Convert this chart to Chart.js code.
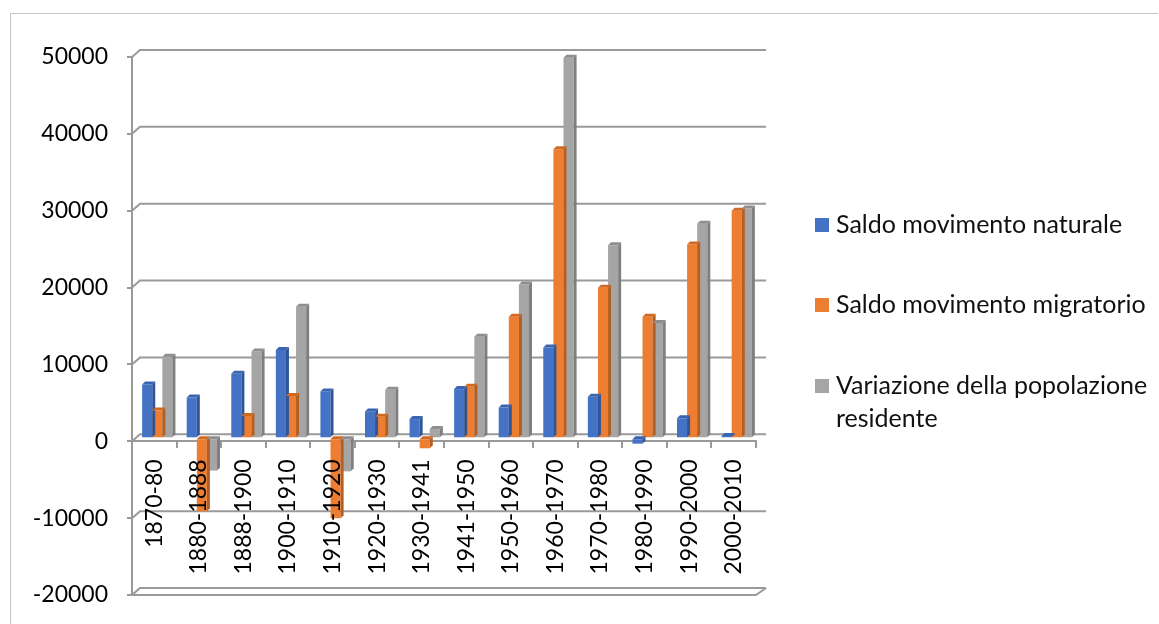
<!DOCTYPE html>
<html>
<head>
<meta charset="utf-8">
<script src="https://cdn.jsdelivr.net/npm/chart.js@4.4.0/dist/chart.umd.min.js"></script>
<style>
  html, body { margin: 0; padding: 0; background: #fff; }
  #wrap { width: 1159px; height: 624px; }
</style>
</head>
<body>
<div id="wrap"><canvas id="popChart" width="1159" height="624"></canvas></div>
<script>
// categories and series
const periods = ["1870-80", "1880-1888", "1888-1900", "1900-1910", "1910-1920", "1920-1930", "1930-1941",
  "1941-1950", "1950-1960", "1960-1970", "1970-1980", "1980-1990", "1990-2000", "2000-2010"];
const naturale = [7000, 5300, 8400, 11500, 6100, 3500, 2500, 6400, 4000, 11800, 5400, -700, 2600, 300];
const migratorio = [3600, -9500, 2900, 5500, -10400, 2800, -1300, 6700, 15800, 37600, 19600, 15800, 25200, 29600];
const variazione = [10600, -4200, 11300, 17100, -4300, 6300, 1200, 13200, 20000, 49500, 25100, 15000, 27900, 29900];
const seriesNames = ["Saldo movimento naturale", "Saldo movimento migratorio", "Variazione della popolazione residente"];
const yMin = -20000;
const yMax = 50000;
const yStep = 10000;

const colors = ["#4472C4", "#ED7D31", "#A5A5A5"];
const sideColors = ["#2F5597", "#B45E22", "#7F7F7F"];
const topColors = ["#3A64B0", "#D06A22", "#8E8E8E"];
const lineGray = "#9a9a9a";
const fontFamily = "Lato, 'Open Sans', sans-serif";

// back wall offset and bar offset (fake 3D)
const wall = { dx: 8, dy: -7 };
const barShift = 3;

const frameAndWalls = {
  id: "frameAndWalls",
  beforeDraw(chart) {
    const ctx = chart.ctx;
    ctx.save();
    ctx.fillStyle = "#fff";
    ctx.fillRect(0, 0, chart.width, chart.height);
    // outer border
    ctx.strokeStyle = "#c4c4c4";
    ctx.lineWidth = 1;
    ctx.beginPath();
    ctx.moveTo(10.5, chart.height);
    ctx.lineTo(10.5, 13.5);
    ctx.lineTo(1158, 13.5);
    ctx.stroke();
    ctx.restore();
  },
  beforeDatasetsDraw(chart) {
    const ctx = chart.ctx;
    const y = chart.scales.y;
    const area = chart.chartArea;
    ctx.save();
    ctx.strokeStyle = lineGray;
    ctx.lineWidth = 2;
    for (let v = yMin; v <= yMax; v += yStep) {
      const py = y.getPixelForValue(v);
      ctx.beginPath();
      ctx.moveTo(area.left, py);
      ctx.lineTo(area.left + wall.dx, py + wall.dy);
      ctx.lineTo(area.right + wall.dx + 2, py + wall.dy);
      ctx.stroke();
    }
    // floor front edge
    const pb = y.getPixelForValue(yMin);
    ctx.beginPath();
    ctx.moveTo(area.left, pb);
    ctx.lineTo(area.right, pb);
    ctx.lineTo(area.right + wall.dx + 2, pb + wall.dy);
    ctx.stroke();
    ctx.restore();

    // bars sit a little behind the front plane
    ctx.save();
    ctx.translate(barShift, -barShift);
  },
  afterDatasetsDraw(chart) {
    const ctx = chart.ctx;
    const d = 3;
    chart.data.datasets.forEach((ds, i) => {
      const meta = chart.getDatasetMeta(i);
      meta.data.forEach((bar) => {
        const p = bar.getProps(["x", "y", "base", "width"], true);
        const left = p.x - p.width / 2;
        const right = p.x + p.width / 2;
        const top = Math.min(p.y, p.base);
        const bottom = Math.max(p.y, p.base);
        // side face
        ctx.fillStyle = sideColors[i];
        ctx.beginPath();
        ctx.moveTo(right, top);
        ctx.lineTo(right + d, top - d);
        ctx.lineTo(right + d, bottom - d);
        ctx.lineTo(right, bottom);
        ctx.closePath();
        ctx.fill();
        // top face
        ctx.fillStyle = topColors[i];
        ctx.beginPath();
        ctx.moveTo(left, top);
        ctx.lineTo(left + d, top - d);
        ctx.lineTo(right + d, top - d);
        ctx.lineTo(right, top);
        ctx.closePath();
        ctx.fill();
      });
    });
    ctx.restore();
  },
};

const sideLegend = {
  id: "sideLegend",
  afterDraw(chart) {
    const ctx = chart.ctx;
    const rows = [225, 305, 386];
    ctx.save();
    ctx.font = "25px " + fontFamily;
    ctx.textBaseline = "middle";
    ctx.textAlign = "left";
    chart.data.datasets.forEach((ds, i) => {
      const cy = rows[i];
      ctx.fillStyle = ds.backgroundColor;
      ctx.fillRect(815, cy - 7, 14, 14);
      ctx.fillStyle = "#111";
      // simple word wrap
      const words = ds.label.split(" ");
      let line = "";
      let ly = cy;
      words.forEach((w) => {
        const test = line ? line + " " + w : w;
        if (ctx.measureText(test).width > 318 && line) {
          ctx.fillText(line, 836, ly);
          line = w;
          ly += 33;
        } else {
          line = test;
        }
      });
      ctx.fillText(line, 836, ly);
    });
    ctx.restore();
  },
};

const ctx = document.getElementById("popChart").getContext("2d");
const popChart = new Chart(ctx, {
  type: "bar",
  data: {
    labels: periods,
    datasets: [
      { label: seriesNames[0], data: naturale, backgroundColor: colors[0] },
      { label: seriesNames[1], data: migratorio, backgroundColor: colors[1] },
      { label: seriesNames[2], data: variazione, backgroundColor: colors[2] },
    ],
  },
  options: {
    responsive: false,
    animation: false,
    devicePixelRatio: 1,
    layout: { padding: { left: 0, top: 57, right: 403, bottom: 29 } },
    datasets: { bar: { categoryPercentage: 0.68, barPercentage: 1.0 } },
    plugins: {
      legend: { display: false },
      tooltip: { enabled: false },
    },
    scales: {
      x: {
        position: { y: 0 },
        grid: { drawOnChartArea: false, drawTicks: true, tickLength: 6, color: lineGray, lineWidth: 2 },
        border: { color: lineGray, width: 2 },
        ticks: {
          z: 1,
          autoSkip: false,
          minRotation: 90,
          maxRotation: 90,
          padding: 12,
          color: "#000",
          font: { family: fontFamily, size: 23 },
        },
      },
      y: {
        min: yMin,
        max: yMax,
        afterFit(scale) {
          scale.width = 132;
          scale.paddingTop = 0;
          scale.paddingBottom = 0;
        },
        grid: { drawOnChartArea: false, drawTicks: true, tickLength: 5, color: lineGray, lineWidth: 2 },
        border: { color: lineGray, width: 2 },
        ticks: {
          stepSize: yStep,
          padding: 19,
          color: "#000",
          font: { family: fontFamily, size: 23 },
          callback: (v) => String(v),
        },
      },
    },
  },
  plugins: [frameAndWalls, sideLegend],
});
</script>
</body>
</html>
